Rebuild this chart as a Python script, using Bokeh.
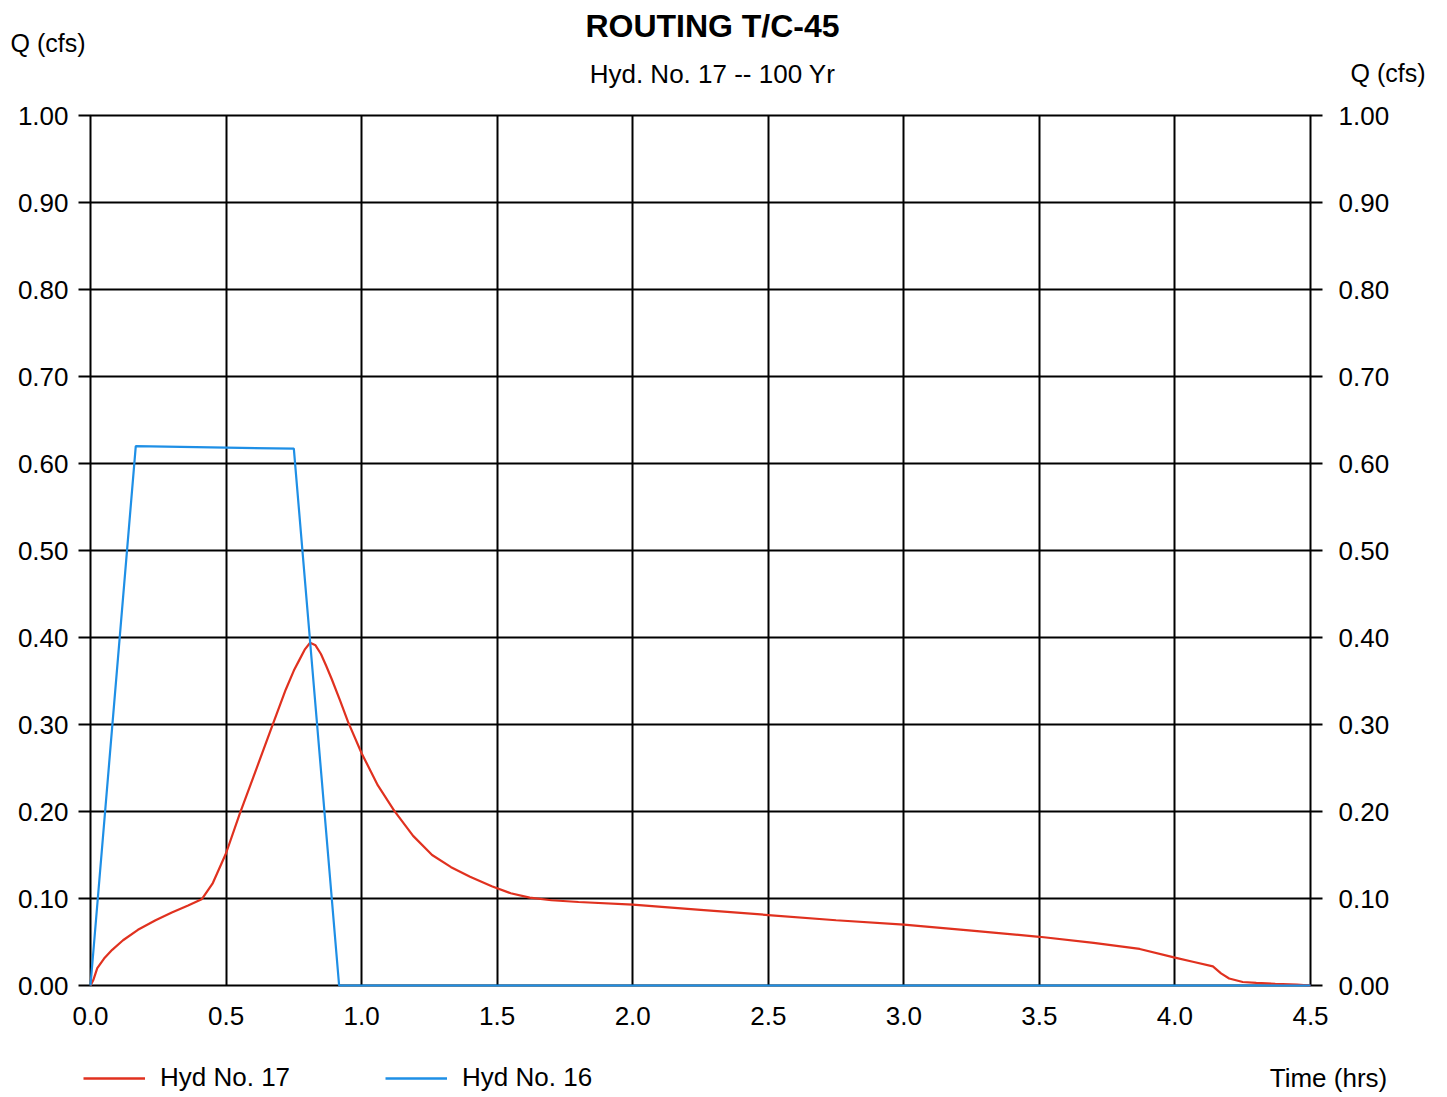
from bokeh.plotting import figure
from bokeh.layouts import column
from bokeh.models import (Range1d, LinearAxis, FixedTicker, NumeralTickFormatter,
                          Legend, LegendItem)
from bokeh.core.properties import value
from bokeh.embed import file_html
from bokeh.resources import INLINE

# ---- data ----
time17 = [0.0, 0.01, 0.025, 0.05, 0.08, 0.12, 0.175, 0.24, 0.30, 0.36, 0.41, 0.45,
          0.50, 0.55, 0.60, 0.67, 0.72, 0.75, 0.77, 0.79, 0.81, 0.83, 0.85, 0.87,
          0.89, 0.92, 0.95, 1.00, 1.06, 1.12, 1.19, 1.26, 1.33, 1.40, 1.48, 1.55,
          1.62, 1.70, 1.80, 2.00, 2.25, 2.50, 2.75, 3.00, 3.25, 3.50, 3.70, 3.87,
          4.00, 4.07, 4.14, 4.17, 4.20, 4.25, 4.30, 4.37, 4.45, 4.50]
q17 = [0.0, 0.006, 0.020, 0.031, 0.041, 0.052, 0.064, 0.075, 0.084, 0.092, 0.099, 0.117,
       0.152, 0.197, 0.239, 0.298, 0.340, 0.362, 0.374, 0.386, 0.394, 0.391, 0.381, 0.367,
       0.352, 0.328, 0.303, 0.267, 0.230, 0.201, 0.172, 0.150, 0.136, 0.125, 0.114, 0.106,
       0.101, 0.098, 0.096, 0.093, 0.087, 0.081, 0.075, 0.070, 0.063, 0.056, 0.049, 0.042,
       0.032, 0.027, 0.022, 0.014, 0.008, 0.004, 0.003, 0.002, 0.001, 0.0]

time16 = [0.0, 0.167, 0.75, 0.917, 4.5]
q16 = [0.0, 0.62, 0.617, 0.0, 0.0]

x_ticks = [0.0, 0.5, 1.0, 1.5, 2.0, 2.5, 3.0, 3.5, 4.0, 4.5]
y_ticks = [0.0, 0.1, 0.2, 0.3, 0.4, 0.5, 0.6, 0.7, 0.8, 0.9, 1.0]

title_text = "ROUTING T/C-45"
subtitle_text = "Hyd. No. 17 -- 100 Yr"
y_label = "Q (cfs)"
x_label = "Time (hrs)"
series_names = ["Hyd No. 17", "Hyd No. 16"]
RED = "#e0311f"
BLUE = "#1e8fe6"
FONT = "Liberation Sans"
W = 1440


def bare(height):
    f = figure(width=W, height=height, output_backend="svg", toolbar_location=None,
               x_range=Range1d(0, W), y_range=Range1d(height, 0),
               min_border=0, x_axis_location=None, y_axis_location=None,
               frame_align=False)
    f.outline_line_color = None
    f.xgrid.visible = False
    f.ygrid.visible = False
    return f


# ---- header with title, subtitle and the two axis titles ----
head = bare(100)
head.text(x=[712], y=[25], text=[title_text], text_align="center",
          text_baseline="middle", text_font=value(FONT), text_font_size="32px",
          text_font_style="bold", text_color="black")
head.text(x=[712], y=[73], text=[subtitle_text], text_align="center",
          text_baseline="middle", text_font=value(FONT), text_font_size="26px",
          text_color="black")
head.text(x=[10, 1350], y=[42, 72], text=[y_label, y_label], text_align="left",
          text_baseline="middle", text_font=value(FONT), text_font_size="25px",
          text_color="black")

# ---- main chart ----
p = figure(width=W, height=940, output_backend="svg", toolbar_location=None,
           x_range=Range1d(0, 4.5), y_range=Range1d(0, 1.0),
           min_border_left=90, min_border_right=130, min_border_top=15,
           min_border_bottom=55, y_axis_location=None)
p.outline_line_color = "black"
p.outline_line_width = 2

p.xaxis.ticker = FixedTicker(ticks=x_ticks)
p.xaxis.formatter = NumeralTickFormatter(format="0.0")
p.xaxis.major_tick_out = 0
p.xaxis.major_tick_in = 0
p.xaxis.minor_tick_line_color = None
p.xaxis.axis_line_color = "black"
p.xaxis.major_label_standoff = 21
p.xaxis.major_label_text_font = FONT
p.xaxis.major_label_text_font_size = "26px"
p.xaxis.major_label_text_color = "black"

for side in ("left", "right"):
    ax = LinearAxis(ticker=FixedTicker(ticks=y_ticks),
                    formatter=NumeralTickFormatter(format="0.00"))
    ax.major_tick_out = 12
    ax.major_tick_in = 0
    ax.major_tick_line_color = "black"
    ax.major_tick_line_width = 2
    ax.minor_tick_line_color = None
    ax.axis_line_color = "black"
    ax.major_label_standoff = 10 if side == "left" else 16
    ax.major_label_text_font = FONT
    ax.major_label_text_font_size = "26px"
    ax.major_label_text_color = "black"
    p.add_layout(ax, side)

p.xgrid.ticker = FixedTicker(ticks=x_ticks)
p.ygrid.ticker = FixedTicker(ticks=y_ticks)
for g in (p.xgrid, p.ygrid):
    g.grid_line_color = "black"
    g.grid_line_width = 2
    g.grid_line_alpha = 1.0

p.line(time17, q17, line_color=RED, line_width=2.2, level="overlay")
p.line(time16, q16, line_color=BLUE, line_width=2.2, level="overlay")

# ---- footer: legend and x-axis title ----
foot = bare(55)
l17 = foot.line(time17, q17, line_color=RED, line_width=2.5, visible=False)
l16 = foot.line(time16, q16, line_color=BLUE, line_width=2.5, visible=False)
legend = Legend(items=[LegendItem(label=series_names[0], renderers=[l17]),
                       LegendItem(label=series_names[1], renderers=[l16])],
                orientation="horizontal", location=(83, 2),
                glyph_width=62, glyph_height=30, label_height=30,
                label_standoff=15, spacing=95,
                padding=0, margin=0, border_line_color=None,
                background_fill_alpha=0, inactive_fill_alpha=0,
                label_text_font=FONT, label_text_font_size="26px",
                label_text_color="black")
foot.add_layout(legend, "center")
foot.text(x=[1328], y=[37], text=[x_label], text_align="center",
          text_baseline="middle", text_font=value(FONT), text_font_size="26px",
          text_color="black")

layout = column(head, p, foot, spacing=0)
open("out.html", "w").write(file_html(layout, INLINE))
